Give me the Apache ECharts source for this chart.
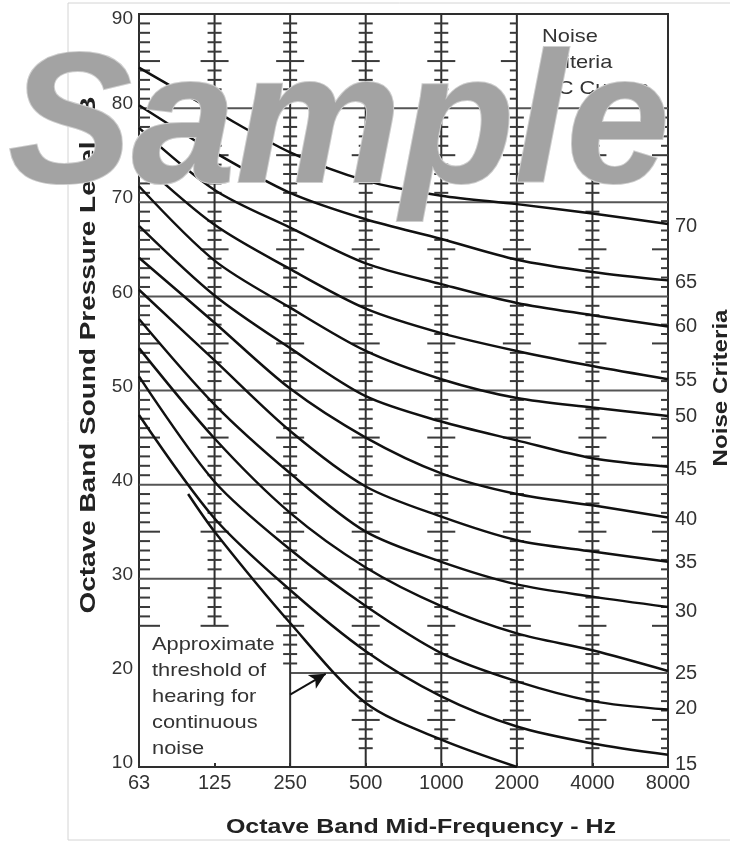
<!DOCTYPE html>
<html><head><meta charset="utf-8">
<script src="https://cdn.jsdelivr.net/npm/echarts@6/dist/echarts.min.js"></script>
<style>html,body{margin:0;padding:0;background:#fff}#c{width:730px;height:842px}</style>
</head><body><div id="c"></div>
<script>
// ---------- data ----------
const freqLabels = ['63','125','250','500','1000','2000','4000','8000'];
const yTickValues = [10,20,30,40,50,60,70,80,90];
const ncNames = ['70','65','60','55','50','45','40','35','30','25','20','15'];
const nc70 = [84.3,79.7,75.3,72.3,70.7,69.8,68.8,67.7];
const nc65 = [80.3,75.3,71.0,68.2,66.1,63.9,62.6,61.7];
const nc60 = [77.9,71.3,67.3,63.5,61.3,59.3,58.0,56.8];
const nc55 = [74.4,67.6,62.9,58.7,56.1,54.2,52.6,51.2];
const nc50 = [71.7,63.8,58.8,54.2,51.2,49.2,48.2,47.3];
const nc45 = [67.5,60.1,54.5,49.4,46.7,44.7,42.8,41.9];
const nc40 = [64.1,57.2,50.2,45.0,41.2,39.0,37.8,36.5];
const nc35 = [60.7,53.2,45.7,39.8,36.6,34.1,32.9,31.8];
const nc30 = [57.6,48.5,41.2,35.0,31.8,29.4,28.1,27.0];
const nc25 = [54.5,44.9,37.0,31.2,27.1,24.2,22.4,20.2];
const nc20 = [51.5,40.3,33.1,27.1,22.1,19.1,17.0,16.1];
const nc15 = [47.4,36.4,28.8,22.3,17.5,14.3,12.5,11.3];
const thresholdX = [0.65,1,2,3,4,5];
const thresholdY = [39.0,35.0,25.3,16.8,12.9,10.0];
const arrowFrom = [2.0,17.7];
const arrowTo = [2.47,19.9];
// chart structure (data units): horizontal rules [fromIdx, toIdx, dB], vertical rules [idx, topDB, bottomDB]
const hRules = [[0,7,80],[0,7,70],[0,7,60],[0,7,50],[0,7,40],[0,7,30],[2,7,20]];
const vRules = [[1,90,25],[2,90,10],[3,90,10],[4,90,10],[5,90,10],[6,80,10]];
// ruler ticks per column: [idx, fromDB, toDB, side(-1 left, 0 both, 1 right)]
const tickRanges = [[0,89,25,1],[1,89,25,0],[2,89,21,0],[3,89,12,0],[4,89,12,0],[5,89,81,-1],[5,79,12,0],[6,79,12,0],[7,79,12,-1]];

// ---------- build ----------
const ncSeriesValues = [nc70,nc65,nc60,nc55,nc50,nc45,nc40,nc35,nc30,nc25,nc20,nc15];
const labelDy = [3,2,0,1,1,3,2,1,4,2,-1,10];
const FONT = '"Liberation Sans", Arial, sans-serif';

const segData = [];
hRules.forEach(r => segData.push([r[0], r[2], r[1], r[2], 0]));
vRules.forEach(r => segData.push([r[0], r[1], r[0], r[2], 1]));
const tickData = [];
tickRanges.forEach(r => { for (let v = r[1]; v >= r[2]; v--) { if (v % 10 !== 0) tickData.push([r[0], v, r[3]]); } });

const series = [];
series.push({
  type:'custom', coordinateSystem:'cartesian2d', data: segData, silent:true, z:1,
  renderItem(params, api){
    const p1 = api.coord([api.value(0), api.value(1)]);
    const p2 = api.coord([api.value(2), api.value(3)]);
    const kind = api.value(4);
    return {type:'line', shape:{x1:p1[0],y1:p1[1],x2:p2[0],y2:p2[1]},
      style:{stroke: kind===0 ? '#555' : '#2e2e2e', lineWidth: 2}};
  }
});
series.push({
  type:'custom', coordinateSystem:'cartesian2d', data: tickData, silent:true, z:1,
  renderItem(params, api){
    const v = api.value(1), side = api.value(2);
    const p = api.coord([api.value(0), v]);
    const major = v % 5 === 0;
    let x1, x2;
    if (side === 1) { x1 = p[0]; x2 = p[0] + (major ? 21 : 11); }
    else if (side === -1) { x1 = p[0] - (major ? 16 : 7); x2 = p[0]; }
    else { const h = major ? 14 : 7; x1 = p[0]-h; x2 = p[0]+h; }
    return {type:'line', shape:{x1:x1,y1:p[1],x2:x2,y2:p[1]}, style:{stroke:'#3a3a3a', lineWidth:2}};
  }
});
ncSeriesValues.forEach((vals, k) => {
  series.push({
    name: ncNames[k], type:'line', smooth:0.3, symbol:'none', z:3,
    data: vals.map((v,i)=>[i,v]),
    lineStyle:{color:'#111', width:2.5},
    endLabel:{show:true, formatter:'{a}', color:'#333', fontSize:20, fontFamily:FONT, distance:7, offset:[0,labelDy[k]]}
  });
});
series.push({
  name:'threshold', type:'line', smooth:0.3, symbol:'none', z:3,
  data: thresholdX.map((x,i)=>[x, thresholdY[i]]),
  lineStyle:{color:'#111', width:2.5},
  markLine:{silent:true, symbol:['none','arrow'], symbolSize:[12,16], label:{show:false},
    lineStyle:{color:'#111', width:2, type:'solid'},
    data:[[{coord:arrowFrom},{coord:arrowTo}]]}
});

const chart = echarts.init(document.getElementById('c'));
chart.setOption({
  animation:false,
  backgroundColor:'#fff',
  grid:{left:139, right:62, top:14, bottom:75, show:true, borderColor:'#2e2e2e', borderWidth:2, backgroundColor:'transparent'},
  xAxis:{type:'value', min:0, max:7, interval:1,
    axisLine:{show:false}, splitLine:{show:false},
    axisTick:{show:true, inside:true, length:4, lineStyle:{color:'#333', width:2}},
    axisLabel:{formatter:(v)=>freqLabels[v], color:'#333', fontSize:20, fontFamily:FONT, margin:6}},
  yAxis:{type:'value', min:yTickValues[0], max:yTickValues[yTickValues.length-1], interval:10,
    axisLine:{show:false}, splitLine:{show:false}, axisTick:{show:false},
    axisLabel:{color:'#333', fontSize:19, fontFamily:FONT, margin:6, padding:[0,0,8,0],
      formatter:(v)=> v === yTickValues[yTickValues.length-1] ? '{t|' + v + '}' : String(v),
      rich:{t:{color:'#333', fontSize:19, fontFamily:FONT, padding:[18,0,0,0]}}}},
  series: series,
  graphic:[
    {type:'rect', shape:{x:68, y:3, width:700, height:837}, style:{fill:'none', stroke:'#d4d4d4', lineWidth:1}, z:0},
    {type:'text', x:89, y:355, rotation:Math.PI/2, scaleX:1.27, z:10,
      style:{text:'Octave Band Sound Pressure Level dB', fontSize:22, fontWeight:'bold', fontFamily:FONT, fill:'#222', align:'center', verticalAlign:'middle'}},
    {type:'text', x:721, y:388, rotation:Math.PI/2, scaleX:1.15, z:10,
      style:{text:'Noise Criteria', fontSize:21, fontWeight:'bold', fontFamily:FONT, fill:'#222', align:'center', verticalAlign:'middle'}},
    {type:'text', x:421, y:827, scaleX:1.19, z:10,
      style:{text:'Octave Band Mid-Frequency - Hz', fontSize:21, fontWeight:'bold', fontFamily:FONT, fill:'#222', align:'center', verticalAlign:'middle'}},
    {type:'text', x:152, y:632.5, scaleX:1.18, z:10,
      style:{text:'Approximate\nthreshold of\nhearing for\ncontinuous\nnoise', fontSize:18.5, lineHeight:25.8, fontFamily:FONT, fill:'#333', align:'left', verticalAlign:'top'}},
    {type:'text', x:542, y:24.3, scaleX:1.18, z:10,
      style:{text:'Noise\nCriteria\nNC Curves', fontSize:18.5, lineHeight:26, fontFamily:FONT, fill:'#333', align:'left', verticalAlign:'top'}},
    {type:'text', x:8, y:131, z:100,
      style:{text:'Sample', fontSize:186, fontWeight:'bold', fontStyle:'italic', fontFamily:FONT, fill:'#a3a3a3', stroke:'#cdcdcd', lineWidth:2, align:'left', verticalAlign:'middle'}}
  ]
});
</script>
</body></html>
